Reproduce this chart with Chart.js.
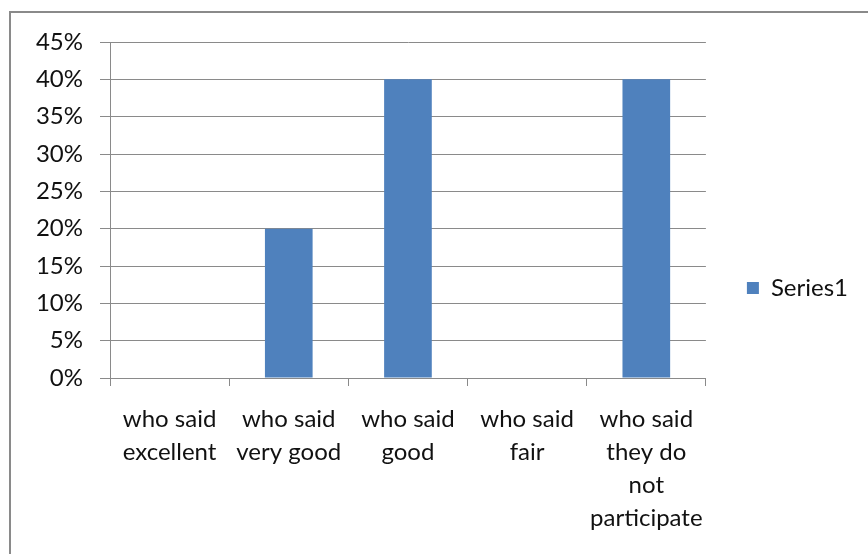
<!DOCTYPE html>
<html>
<head>
<meta charset="utf-8">
<script src="https://cdn.jsdelivr.net/npm/chart.js@4/dist/chart.umd.min.js"></script>
<style>
  html, body { margin: 0; padding: 0; background: #fff; }
  #frame { position: absolute; left: 9px; top: 11px; width: 900px; height: 600px;
           border-top: 2px solid #8a8a8a; border-left: 2px solid #8a8a8a; }
  #wrap { position: absolute; left: 0; top: 0; width: 868px; height: 554px; }
</style>
</head>
<body>
<div id="frame"></div>
<div id="wrap"><canvas id="chart"></canvas></div>
<script>
const categories = [
    ['who said', 'excellent'],
    ['who said', 'very good'],
    ['who said', 'good'],
    ['who said', 'fair'],
    ['who said', 'they do', 'not', 'participate']
];
const series1 = [0, 0.20, 0.40, 0, 0.40];
const seriesName = 'Series1';

chart_draw();
function chart_draw() {
    const $chart = document.querySelector('#chart');
    const ctx = $chart.getContext('2d');
    const font = { family: 'Lato, "Open Sans", sans-serif', size: 24 };

    new Chart(ctx, {
        type: 'bar',
        data: {
            labels: categories,
            datasets: [{
                label: seriesName,
                data: series1,
                backgroundColor: '#4f81bd',
                barPercentage: 0.4,
                categoryPercentage: 1.0
            }]
        },
        options: {
            responsive: true,
            maintainAspectRatio: false,
            animation: false,
            layout: { padding: { top: 42, left: 0, right: 10, bottom: 20 } },
            plugins: {
                tooltip: { enabled: false },
                legend: {
                    position: 'right',
                    labels: { color: '#111', font: font, boxWidth: 12, boxHeight: 12, padding: 41 }
                }
            },
            scales: {
                x: {
                    afterFit: (s) => { s.height = 554 - 20 - 378; },
                    grid: { display: true, drawOnChartArea: false, tickLength: 8, color: '#8a8a8a', offset: true },
                    border: { color: '#8a8a8a' },
                    ticks: { color: '#111', font: { ...font, lineHeight: 1.375 }, padding: 17, maxRotation: 0, autoSkip: false }
                },
                y: {
                    min: 0,
                    max: 0.45,
                    afterFit: (s) => { s.width = 110; },
                    grid: { color: '#8a8a8a', tickLength: 10 },
                    border: { color: '#8a8a8a' },
                    ticks: {
                        stepSize: 0.05,
                        color: '#111',
                        font: font,
                        padding: 17,
                        callback: (v) => Math.round(v * 100) + '%'
                    }
                }
            }
        }
    });
}
</script>
</body>
</html>
